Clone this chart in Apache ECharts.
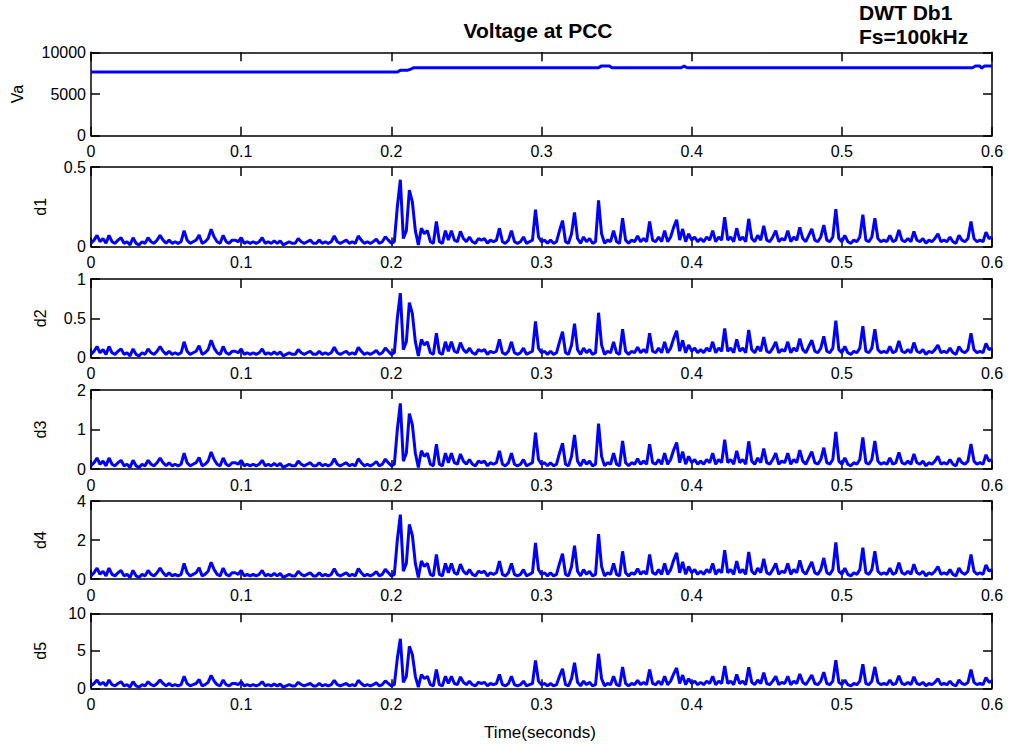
<!DOCTYPE html>
<html><head><meta charset="utf-8">
<script src="https://cdn.jsdelivr.net/npm/echarts@6/dist/echarts.min.js"></script>
<style>html,body{margin:0;padding:0;background:#fff}#c{width:1010px;height:748px}</style>
</head><body><div id="c"></div>
<script>
// Time step of the detail coefficient samples (s)
const dt = 0.002;
const xTicks = [0, 0.1, 0.2, 0.3, 0.4, 0.5, 0.6];

// Voltage at PCC (breakpoints)
const vaTime  = [0, 0.204, 0.206, 0.211, 0.213, 0.215, 0.338, 0.340, 0.345, 0.347, 0.393, 0.395, 0.397, 0.587, 0.589, 0.592, 0.593, 0.595, 0.6];
const vaValue = [7640, 7640, 7840, 7860, 7980, 8150, 8150, 8370, 8370, 8150, 8150, 8340, 8150, 8150, 8350, 8350, 8100, 8350, 8350];

const d1 = [
.02,.04,.07,.03,.05,.02,.07,.03,.02,.04,
.055,.02,.03,.01,.055,.02,.01,.03,.02,.055,
.03,.02,.04,.07,.04,.02,.04,.02,.03,.02,
.03,.1,.04,.02,.03,.04,.073,.02,.03,.05,
.108,.06,.03,.02,.07,.03,.02,.04,.04,.03,
.055,.02,.03,.02,.03,.02,.03,.055,.02,.03,
.02,.035,.02,.035,.01,.02,.03,.02,.02,.05,
.03,.02,.03,.04,.02,.02,.04,.02,.03,.02,
.03,.066,.03,.02,.03,.04,.02,.03,.02,.066,
.04,.02,.03,.02,.03,.047,.02,.03,.062,.04,
.02,.03,.25,.42,.05,.1,.355,.28,.1,.01,
.115,.08,.1,.03,.02,.157,.03,.02,.1,.04,
.1,.04,.03,.095,.05,.03,.06,.03,.02,.05,
.04,.05,.02,.04,.03,.04,.115,.03,.02,.04,
.1,.03,.02,.03,.06,.02,.03,.04,.231,.06,
.03,.04,.02,.04,.02,.03,.1,.163,.03,.02,
.08,.214,.05,.02,.06,.03,.05,.02,.03,.29,
.08,.02,.04,.03,.1,.03,.02,.178,.04,.02,
.04,.03,.066,.03,.05,.03,.157,.04,.03,.06,
.03,.1,.03,.06,.12,.168,.04,.11,.03,.08,
.04,.06,.03,.05,.03,.06,.04,.1,.03,.06,
.04,.185,.04,.06,.03,.115,.04,.06,.03,.174,
.05,.03,.07,.04,.13,.04,.03,.06,.1,.03,
.05,.04,.1,.03,.06,.04,.12,.05,.03,.07,
.11,.04,.03,.06,.135,.04,.03,.06,.235,.05,
.03,.07,.03,.02,.04,.03,.06,.2,.04,.03,
.06,.178,.05,.03,.04,.03,.07,.03,.04,.105,
.04,.03,.05,.03,.095,.04,.03,.05,.02,.04,
.03,.05,.08,.03,.04,.03,.06,.03,.02,.07,
.04,.03,.05,.157,.05,.03,.04,.03,.09,.05,
.06];

const d2 = [
.04,.08,.14,.06,.1,.04,.14,.06,.04,.08,
.11,.04,.06,.02,.11,.04,.02,.06,.04,.11,
.06,.04,.08,.14,.08,.04,.08,.04,.06,.04,
.06,.2,.08,.04,.06,.08,.15,.04,.06,.1,
.22,.12,.06,.04,.14,.06,.04,.08,.08,.06,
.11,.04,.06,.04,.06,.04,.06,.11,.04,.06,
.04,.07,.04,.07,.02,.04,.06,.04,.04,.1,
.06,.04,.06,.08,.04,.04,.08,.04,.06,.04,
.06,.13,.06,.04,.06,.08,.04,.06,.04,.13,
.08,.04,.06,.04,.06,.09,.04,.06,.12,.08,
.04,.06,.5,.82,.1,.2,.7,.56,.2,.02,
.23,.16,.2,.06,.04,.31,.06,.04,.2,.08,
.2,.08,.06,.19,.1,.06,.12,.06,.04,.1,
.08,.1,.04,.08,.06,.08,.23,.06,.04,.08,
.2,.06,.04,.06,.12,.04,.06,.08,.46,.12,
.06,.08,.04,.08,.04,.06,.2,.33,.06,.04,
.16,.43,.1,.04,.12,.06,.1,.04,.06,.57,
.16,.04,.08,.06,.2,.06,.04,.36,.08,.04,
.08,.06,.13,.06,.1,.06,.31,.08,.06,.12,
.06,.2,.06,.12,.24,.34,.08,.22,.06,.16,
.08,.12,.06,.1,.06,.12,.08,.2,.06,.12,
.08,.37,.08,.12,.06,.23,.08,.12,.06,.35,
.1,.06,.14,.08,.26,.08,.06,.12,.2,.06,
.1,.08,.2,.06,.12,.08,.24,.1,.06,.14,
.22,.08,.06,.12,.27,.08,.06,.12,.47,.1,
.06,.14,.06,.04,.08,.06,.12,.4,.08,.06,
.12,.36,.1,.06,.08,.06,.14,.06,.08,.21,
.08,.06,.1,.06,.19,.08,.06,.1,.04,.08,
.06,.1,.16,.06,.08,.06,.12,.06,.04,.14,
.08,.06,.1,.31,.1,.06,.08,.06,.18,.1,
.12];

const d3 = [
.08,.16,.28,.12,.2,.08,.28,.12,.08,.16,
.22,.08,.12,.04,.22,.08,.04,.12,.08,.22,
.12,.08,.16,.28,.16,.08,.16,.08,.12,.08,
.12,.4,.16,.08,.12,.16,.29,.08,.12,.2,
.43,.24,.12,.08,.28,.12,.08,.16,.16,.12,
.22,.08,.12,.08,.12,.08,.12,.22,.08,.12,
.08,.14,.08,.14,.04,.08,.12,.08,.08,.2,
.12,.08,.12,.16,.08,.08,.16,.08,.12,.08,
.12,.26,.12,.08,.12,.16,.08,.12,.08,.26,
.16,.08,.12,.08,.12,.19,.08,.12,.25,.16,
.08,.12,1,1.66,.2,.4,1.4,1.12,.4,.04,
.46,.32,.4,.12,.08,.63,.12,.08,.4,.16,
.4,.16,.12,.38,.2,.12,.24,.12,.08,.2,
.16,.2,.08,.16,.12,.16,.46,.12,.08,.16,
.4,.12,.08,.12,.24,.08,.12,.16,.92,.24,
.12,.16,.08,.16,.08,.12,.4,.65,.12,.08,
.32,.86,.2,.08,.24,.12,.2,.08,.12,1.15,
.32,.08,.16,.12,.4,.12,.08,.71,.16,.08,
.16,.12,.26,.12,.2,.12,.63,.16,.12,.24,
.12,.4,.12,.24,.48,.67,.16,.44,.12,.32,
.16,.24,.12,.2,.12,.24,.16,.4,.12,.24,
.16,.74,.16,.24,.12,.46,.16,.24,.12,.7,
.2,.12,.28,.16,.52,.16,.12,.24,.4,.12,
.2,.16,.4,.12,.24,.16,.48,.2,.12,.28,
.44,.16,.12,.24,.54,.16,.12,.24,.94,.2,
.12,.28,.12,.08,.16,.12,.24,.8,.16,.12,
.24,.71,.2,.12,.16,.12,.28,.12,.16,.42,
.16,.12,.2,.12,.38,.16,.12,.2,.08,.16,
.12,.2,.32,.12,.16,.12,.24,.12,.08,.28,
.16,.12,.2,.63,.2,.12,.16,.12,.36,.2,
.24];

const d4 = [
.16,.32,.56,.24,.4,.16,.56,.24,.16,.32,
.44,.16,.24,.08,.44,.16,.08,.24,.16,.44,
.24,.16,.32,.56,.32,.16,.32,.16,.24,.16,
.24,.8,.32,.16,.24,.32,.58,.16,.24,.4,
.86,.48,.24,.16,.56,.24,.16,.32,.32,.24,
.44,.16,.24,.16,.24,.16,.24,.44,.16,.24,
.16,.28,.16,.28,.08,.16,.24,.16,.16,.4,
.24,.16,.24,.32,.16,.16,.32,.16,.24,.16,
.24,.53,.24,.16,.24,.32,.16,.24,.16,.53,
.32,.16,.24,.16,.24,.38,.16,.24,.5,.32,
.16,.24,2,3.3,.4,.8,2.8,2.24,.8,.08,
.92,.64,.8,.24,.16,1.26,.24,.16,.8,.32,
.8,.32,.24,.76,.4,.24,.48,.24,.16,.4,
.32,.4,.16,.32,.24,.32,.92,.24,.16,.32,
.8,.24,.16,.24,.48,.16,.24,.32,1.85,.48,
.24,.32,.16,.32,.16,.24,.8,1.3,.24,.16,
.64,1.71,.4,.16,.48,.24,.4,.16,.24,2.3,
.64,.16,.32,.24,.8,.24,.16,1.42,.32,.16,
.32,.24,.53,.24,.4,.24,1.26,.32,.24,.48,
.24,.8,.24,.48,.96,1.34,.32,.88,.24,.64,
.32,.48,.24,.4,.24,.48,.32,.8,.24,.48,
.32,1.48,.32,.48,.24,.92,.32,.48,.24,1.39,
.4,.24,.56,.32,1.04,.32,.24,.48,.8,.24,
.4,.32,.8,.24,.48,.32,.96,.4,.24,.56,
.88,.32,.24,.48,1.08,.32,.24,.48,1.88,.4,
.24,.56,.24,.16,.32,.24,.48,1.6,.32,.24,
.48,1.42,.4,.24,.32,.24,.56,.24,.32,.84,
.32,.24,.4,.24,.76,.32,.24,.4,.16,.32,
.24,.4,.64,.24,.32,.24,.48,.24,.16,.56,
.32,.24,.4,1.26,.4,.24,.32,.24,.72,.4,
.48];

const d5 = [
.32,.64,1.1,.48,.8,.32,1.1,.48,.32,.64,
.88,.32,.48,.16,.88,.32,.16,.48,.32,.88,
.48,.32,.64,1.1,.64,.32,.64,.32,.48,.32,
.48,1.6,.64,.32,.48,.64,1.17,.32,.48,.8,
1.73,.96,.48,.32,1.1,.48,.32,.64,.64,.48,
.88,.32,.48,.32,.48,.32,.48,.88,.32,.48,
.32,.56,.32,.56,.16,.32,.48,.32,.32,.8,
.48,.32,.48,.64,.32,.32,.64,.32,.48,.32,
.48,1.06,.48,.32,.48,.64,.32,.48,.32,1.06,
.64,.32,.48,.32,.48,.75,.32,.48,1,.64,
.32,.48,4,6.6,.8,1.6,5.6,4.5,1.6,.16,
1.84,1.28,1.6,.48,.32,2.5,.48,.32,1.6,.64,
1.6,.64,.48,1.52,.8,.48,.96,.48,.32,.8,
.64,.8,.32,.64,.48,.64,1.84,.48,.32,.64,
1.6,.48,.32,.48,.96,.32,.48,.64,3.7,.96,
.48,.64,.32,.64,.32,.48,1.6,2.6,.48,.32,
1.28,3.4,.8,.32,.96,.48,.8,.32,.48,4.6,
1.28,.32,.64,.48,1.6,.48,.32,2.85,.64,.32,
.64,.48,1.06,.48,.8,.48,2.5,.64,.48,.96,
.48,1.6,.48,.96,1.92,2.7,.64,1.76,.48,1.28,
.64,.96,.48,.8,.48,.96,.64,1.6,.48,.96,
.64,2.96,.64,.96,.48,1.84,.64,.96,.48,2.8,
.8,.48,1.1,.64,2.1,.64,.48,.96,1.6,.48,
.8,.64,1.6,.48,.96,.64,1.92,.8,.48,1.1,
1.76,.64,.48,.96,2.16,.64,.48,.96,3.76,.8,
.48,1.1,.48,.32,.64,.48,.96,3.2,.64,.48,
.96,2.85,.8,.48,.64,.48,1.1,.48,.64,1.68,
.64,.48,.8,.48,1.52,.64,.48,.8,.32,.64,
.48,.8,1.28,.48,.64,.48,.96,.48,.32,1.1,
.64,.48,.8,2.5,.8,.48,.64,.48,1.44,.8,
.96];

const names = ['Va', 'd1', 'd2', 'd3', 'd4', 'd5'];
const yMax = [10000, 0.5, 1, 2, 4, 10];
const yInterval = [5000, 0.5, 0.5, 1, 2, 5];

const series = [vaTime.map((x, i) => [x, vaValue[i]])].concat(
  [d1, d2, d3, d4, d5].map(arr => arr.map((v, i) => [+(i * dt).toFixed(3), v]))
);

// layout
const tops = [52.3, 167, 279, 390, 501, 613.3];
const heights = [83.4, 79.5, 78.5, 79, 78, 75];
const nameGaps = [66, 43, 43, 43, 43, 43];

const FONT = 'Arial, "Liberation Sans", sans-serif';
const lineStyle = { color: '#000', width: 1.5 };

const option = {
  animation: false,
  backgroundColor: '#fff',
  grid: [], xAxis: [], yAxis: [], series: [],
  graphic: [
    { type: 'text', x: 538, y: 30, style: { text: 'Voltage at PCC', font: 'bold 21px ' + FONT, fill: '#000', textAlign: 'center', textVerticalAlign: 'middle' } },
    { type: 'text', x: 859, y: 12.5, style: { text: 'DWT Db1', font: 'bold 21px ' + FONT, fill: '#000', textAlign: 'left', textVerticalAlign: 'middle' } },
    { type: 'text', x: 859, y: 36, style: { text: 'Fs=100kHz', font: 'bold 21px ' + FONT, fill: '#000', textAlign: 'left', textVerticalAlign: 'middle' } },
    { type: 'text', x: 540, y: 732, style: { text: 'Time(seconds)', font: '17px ' + FONT, fill: '#000', textAlign: 'center', textVerticalAlign: 'middle' } }
  ]
};

for (let k = 0; k < 6; k++) {
  option.grid.push({ left: 91, right: 18, top: tops[k], height: heights[k], containLabel: false });
  // bottom x axis with labels
  option.xAxis.push({
    type: 'value', gridIndex: k, min: 0, max: 0.6, interval: 0.1, position: 'bottom',
    axisLine: { show: true, onZero: false, lineStyle },
    axisTick: { show: true, inside: true, length: 9, lineStyle },
    axisLabel: { show: true, color: '#000', fontSize: 16, fontFamily: FONT, margin: 8, formatter: v => String(+v.toFixed(3)) },
    splitLine: { show: false }
  });
  // top x axis (ticks only)
  option.xAxis.push({
    type: 'value', gridIndex: k, min: 0, max: 0.6, interval: 0.1, position: 'top',
    axisLine: { show: true, onZero: false, lineStyle },
    axisTick: { show: true, inside: true, length: 9, lineStyle },
    axisLabel: { show: false }, splitLine: { show: false }
  });
  // left y axis
  option.yAxis.push({
    type: 'value', gridIndex: k, min: 0, max: yMax[k], interval: yInterval[k], position: 'left',
    name: names[k], nameLocation: 'middle', nameGap: nameGaps[k],
    nameTextStyle: { color: '#000', fontSize: 16, fontFamily: FONT },
    axisLine: { show: true, onZero: false, lineStyle },
    axisTick: { show: true, inside: true, length: 9, lineStyle },
    axisLabel: { show: true, color: '#000', fontSize: 16, fontFamily: FONT, margin: 5, formatter: v => String(+v.toFixed(3)) },
    splitLine: { show: false }
  });
  // right y axis (ticks only)
  option.yAxis.push({
    type: 'value', gridIndex: k, min: 0, max: yMax[k], interval: yInterval[k], position: 'right',
    axisLine: { show: true, onZero: false, lineStyle },
    axisTick: { show: true, inside: true, length: 9, lineStyle },
    axisLabel: { show: false }, splitLine: { show: false }
  });
  option.series.push({
    type: 'line', xAxisIndex: 2 * k, yAxisIndex: 2 * k, data: series[k],
    showSymbol: false, symbol: 'none', clip: true,
    lineStyle: { color: '#0000ff', width: 3 }, z: 1
  });
}

const chart = echarts.init(document.getElementById('c'), null, { renderer: 'svg' });
chart.setOption(option);
</script>
</body></html>
